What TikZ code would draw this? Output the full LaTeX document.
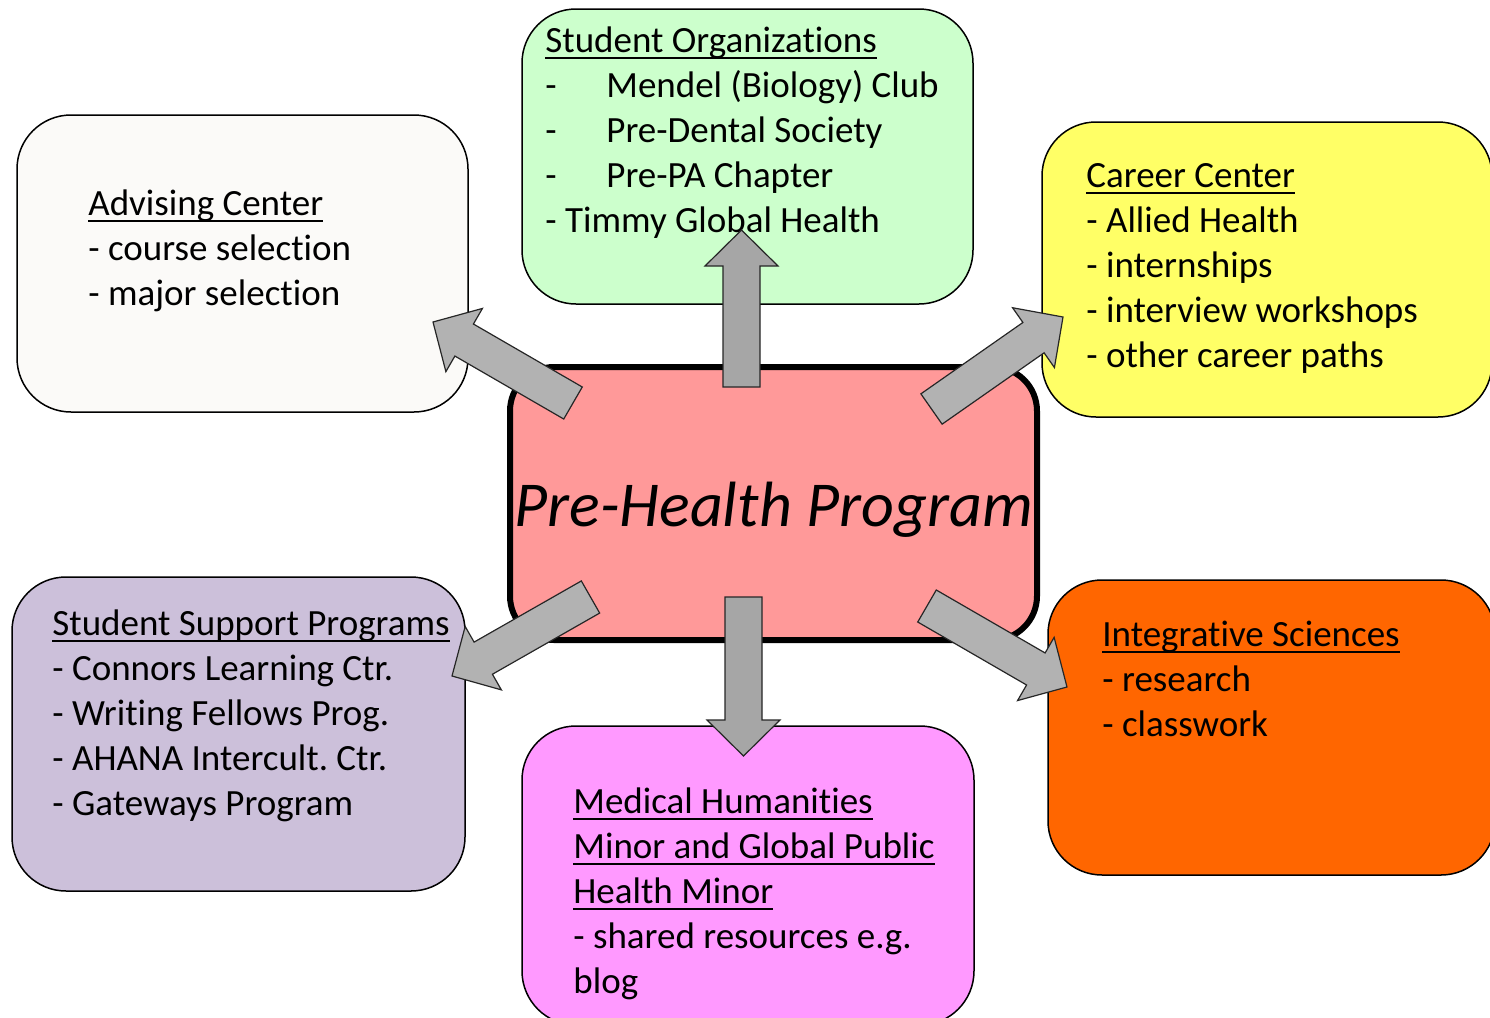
\documentclass[tikz,border=0pt]{standalone}
\usepackage{fontspec}
\setmainfont[Ligatures={NoCommon}]{Carlito}
\usetikzlibrary{calc}
\frenchspacing
\definecolor{advc}{HTML}{FBFAF8}
\definecolor{orgc}{HTML}{CCFFCC}
\definecolor{carc}{HTML}{FFFF66}
\definecolor{cenc}{HTML}{FF9999}
\definecolor{supc}{HTML}{CCC0DA}
\definecolor{medc}{HTML}{FF99FF}
\definecolor{intc}{HTML}{FF6600}
\definecolor{graya}{HTML}{A6A6A6}
\definecolor{grayb}{HTML}{B2B2B2}
\newcommand\ulh[1]{\setbox0=\hbox{#1}\rlap{\rule[-3.4pt]{\wd0}{1pt}}\box0}
\newcommand\tabdash{\makebox[30.5pt][l]{-}}
\newcommand\blockarrow[3]{%
  \coordinate (bh) at ($(#3)!18pt!(#2)$);
  \draw[blkarrow, fill=#1] ($(#2)!9.25pt!90:(#3)$) -- ($(bh)!9.25pt!90:(#3)$)
    -- ($(bh)!18.25pt!90:(#3)$) -- (#3) -- ($(bh)!18.25pt!-90:(#3)$)
    -- ($(bh)!9.25pt!-90:(#3)$) -- ($(#2)!9.25pt!-90:(#3)$) -- cycle;}
\tikzset{
  box/.style={draw=black, line width=0.75pt, rounded corners=27pt, inner sep=0pt},
  txt/.style={anchor=north west, inner sep=0pt, align=left, font=\fontsize{18.5}{22.5}\selectfont},
  blkarrow/.style={draw=black!85, line width=0.6pt, line join=miter},
}
\begin{document}
\begin{tikzpicture}[x=0.5pt, y=-0.5pt]
\useasboundingbox (0,0) rectangle (1490,1018);
\clip (0,0) rectangle (1490,1018);
% boxes
\node[box, fill=advc, minimum width=225.5pt, minimum height=148.5pt] (adv) at (242.5,263.5) {};
\node[box, fill=orgc, minimum width=225.5pt, minimum height=147.5pt] (org) at (747.5,156.5) {};
\node[box, fill=carc, minimum width=225pt, minimum height=147.5pt] (car) at (1267,269.5) {};
\node[box, fill=supc, minimum width=226.5pt, minimum height=157pt] (sup) at (238.5,734) {};
\node[box, fill=medc, minimum width=226pt, minimum height=149.5pt] (med) at (748,875.5) {};
\node[box, fill=intc, minimum width=223.5pt, minimum height=147.5pt] (int) at (1271.5,727.5) {};
\node[box, fill=cenc, line width=3pt, rounded corners=22pt, minimum width=263.5pt, minimum height=136.5pt] (cen) at (773.5,503.5) {};
% texts
\node[txt] (advt) at (88,183.5) {\strut\ulh{Advising Center}\\- course selection\\- major selection};
\node[txt] (orgt) at (545,20.5) {\strut\ulh{Student Organizations}\\\tabdash Mendel (Biology) Club\\\tabdash Pre-Dental Society\\\tabdash Pre-PA Chapter\\- Timmy Global Health};
\node[txt] (cart) at (1086,155.5) {\strut\ulh{Career Center}\\- Allied Health\\- internships\\- interview workshops\\- other career paths};
\node[txt] (supt) at (52,603.5) {\strut\ulh{Student Support Programs}\\- Connors Learning Ctr.\\- Writing Fellows Prog.\\- AHANA Intercult. Ctr.\\- Gateways Program};
\node[txt] (medt) at (573,781.5) {\strut\ulh{Medical Humanities}\\\ulh{Minor and Global Public}\\\ulh{Health Minor}\\- shared resources e.g.\\blog};
\node[txt] (intt) at (1102,614.5) {\strut\ulh{Integrative Sciences}\\- research\\- classwork};
\node[anchor=base, inner sep=0pt, font=\fontsize{32}{38}\selectfont\itshape] (cent) at (773.5,526) {Pre-Health Program};
% arrows
\coordinate (upA) at (741.5,387);  \coordinate (upB) at (741.5,230);
\coordinate (dnA) at (743.5,597);  \coordinate (dnB) at (743.5,756);
\coordinate (ulA) at (573,403);    \coordinate (ulB) at (433,322);
\coordinate (urA) at (931.5,409);  \coordinate (urB) at (1063,317);
\coordinate (llA) at (590.5,597);  \coordinate (llB) at (452,676);
\coordinate (lrA) at (927,606);    \coordinate (lrB) at (1067,687);
\blockarrow{graya}{upA}{upB}
\blockarrow{graya}{dnA}{dnB}
\blockarrow{grayb}{ulA}{ulB}
\blockarrow{grayb}{urA}{urB}
\blockarrow{grayb}{llA}{llB}
\blockarrow{grayb}{lrA}{lrB}
\end{tikzpicture}
\end{document}
